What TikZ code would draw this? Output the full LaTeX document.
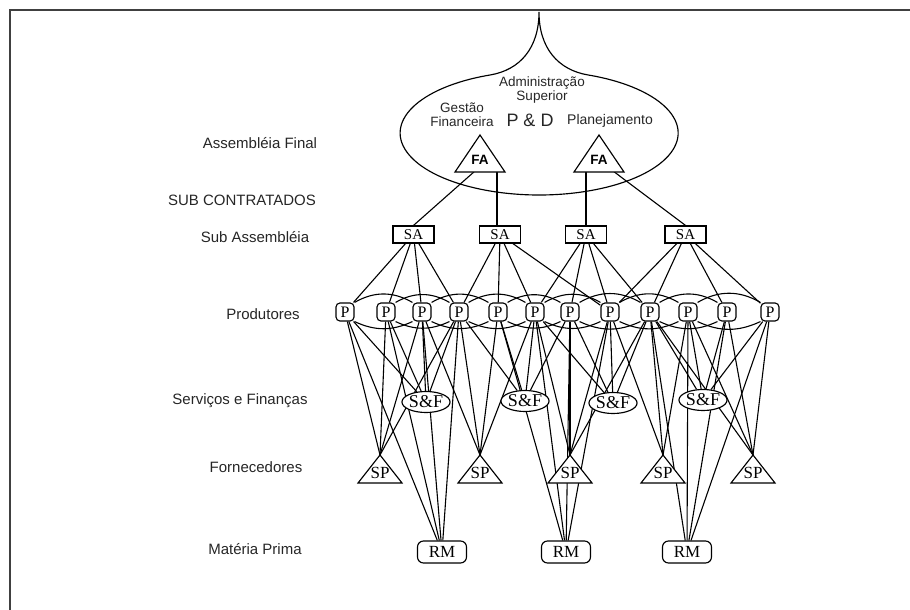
\documentclass[tikz,border=0pt]{standalone}
\usepackage{fontspec}
\setmainfont{Liberation Serif}
\newfontfamily\lsans{Liberation Sans}
\usetikzlibrary{backgrounds,shapes.geometric}

\begin{document}
\begin{tikzpicture}[x=1pt,y=1pt, line width=1.15pt,
  lvl/.style={font=\lsans\fontsize{15}{18}\selectfont, text=black!85, inner sep=0pt},
  inlabel/.style={font=\lsans\fontsize{13.5}{14}\selectfont, align=center, text=black!85, inner sep=0pt},
  pbox/.style={draw, rounded corners=4pt, fill=white, minimum width=18pt, minimum height=18pt,
    inner sep=0pt, font=\fontsize{16}{16}\selectfont},
  sabox/.style={draw, fill=white, minimum width=41pt, minimum height=17pt, inner sep=0pt,
    font=\fontsize{15}{15}\selectfont},
  sfnode/.style={draw, ellipse, fill=white, minimum width=44pt, minimum height=21pt, inner sep=0pt,
    font=\fontsize{18}{18}\selectfont},
  rmbox/.style={draw, rounded corners=6pt, fill=white, minimum width=49pt, minimum height=22pt,
    inner sep=0pt, font=\fontsize{17}{17}\selectfont},
  tritext/.style={inner sep=0pt, font=\fontsize{17}{17}\selectfont},
  fatext/.style={inner sep=0pt, font=\lsans\bfseries\fontsize{13.5}{14}\selectfont},
  tri/.style={draw, fill=white},
  links/.style={line width=1.1pt, black}
]
\useasboundingbox (0,0) rectangle (910,-610);

% frame
\draw[line width=2pt, black!75] (10,-611) -- (10,-10) -- (911,-10);

% level captions
\node[lvl] (lfa) at (260,-143) {Assembléia Final};
\node[lvl] (lsub) at (242,-200) {SUB CONTRATADOS};
\node[lvl] (lsa) at (255,-237) {Sub Assembléia};
\node[lvl] (lp) at (263,-314) {Produtores};
\node[lvl] (lsf) at (240,-401) {Serviços e Finanças};
\node[lvl] (lsp) at (256,-467) {Fornecedores};
\node[lvl] (lrm) at (255,-549) {Matéria Prima};

% top management bubble
\draw (539,-12) .. controls (539,-48) and (520,-70) .. (490,-75)
  arc[start angle=110.7, end angle=429.3, x radius=139, y radius=62]
  .. controls (558,-70) and (539,-48) .. (539,-12);
\node[inlabel] (adm) at (542,-90) {Administração\\Superior};
\node[inlabel] (gf) at (462,-114.5) {Gestão\\Financeira};
\node[inlabel, font=\lsans\fontsize{18}{18}\selectfont] (pd) at (530,-120) {P \& D};
\node[inlabel, font=\lsans\fontsize{14}{14}\selectfont] (plan) at (610,-121) {Planejamento};

% final assembly triangles
\draw[tri] (480,-135) -- (505,-172) -- (455,-172) -- cycle;
\draw[tri] (599,-135) -- (624,-172) -- (574,-172) -- cycle;
\node[fatext] (fa1) at (480,-160) {FA};
\node[fatext] (fa2) at (599,-160) {FA};
\coordinate (fa1l) at (475,-171);
\coordinate (fa1r) at (497,-172);
\coordinate (fa2l) at (586,-172);
\coordinate (fa2r) at (613,-171);

% sub assemblies
\node[sabox] (sa1) at (413.5,-234.5) {SA};
\node[sabox] (sa2) at (500,-234.5) {SA};
\node[sabox] (sa3) at (586,-234.5) {SA};
\node[sabox] (sa4) at (685.5,-234.5) {SA};

% producers
\foreach \x [count=\i] in {345,386,422,459,498,535,570,610,650,688,727,770}
  \node[pbox] (p\i) at (\x,-312) {P};

% services and finance
\node[sfnode] (sf1) at (426,-402) {S\&F};
\node[sfnode] (sf2) at (525,-401) {S\&F};
\node[sfnode] (sf3) at (613,-403) {S\&F};
\node[sfnode] (sf4) at (703,-400) {S\&F};

% suppliers
\foreach \x [count=\i] in {380,480,570,663,753} {
  \draw[tri] (\x,-455) -- (\x+22,-483) -- (\x-22,-483) -- cycle;
  \node[tritext] (sp\i) at (\x,-473) {SP};
  \coordinate (apex\i) at (\x,-455);
}

% raw material
\node[rmbox] (rm1) at (442,-552) {RM};
\node[rmbox] (rm2) at (566,-552) {RM};
\node[rmbox] (rm3) at (687,-552) {RM};

\begin{scope}[on background layer]
\begin{scope}[links]
  % final assembly to sub assembly
  \draw (fa1l) -- (sa1.north);
  \draw (fa1r) -- (fa1r |- sa2.north);
  \draw (fa2l) -- (fa2l |- sa3.north);
  \draw (fa2r) -- (sa4.north);
  % sub assembly to producers
  \foreach \a/\b in {1/1,2/1,3/1,4/1, 4/2,5/2,6/2,8/2, 6/3,7/3,8/3,9/3, 8/4,9/4,11/4,12/4}
    \draw (sa\b) -- (p\a);
  % links among producers
  \foreach \i [evaluate=\i as \j using int(\i+2)] in {1,...,10} {
    \draw (p\i.north east) to[out=30,in=150] (p\j.north west);
    \draw (p\i.south east) to[out=-25,in=-155] (p\j.south west);
  }
  % producers to services and finance
  \foreach \a/\b in {1/1,2/1,3/1,4/1, 4/2,5/2,6/2,7/2, 6/3,7/3,8/3,9/3, 9/4,10/4,11/4,12/4}
    \draw (p\a) -- (sf\b);
  % producers to suppliers
  \foreach \a/\b in {1/1,2/1,3/1,4/1, 3/2,4/2,5/2,6/2, 6/3,7/3,8/3,9/3, 8/4,9/4,10/4, 9/5,10/5,11/5,12/5}
    \draw (p\a) -- (apex\b);
  % producers to raw material
  \foreach \a/\b in {1/1,2/1,3/1,4/1, 5/2,6/2,7/2,8/2, 9/3,10/3,11/3,12/3}
    \draw (p\a) -- (rm\b);
\end{scope}
\end{scope}
\end{tikzpicture}
\end{document}
